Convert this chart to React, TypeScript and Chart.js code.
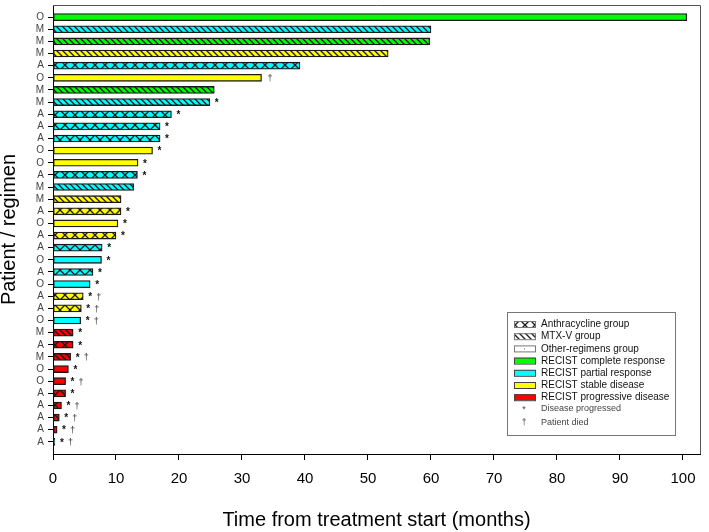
import React, { useEffect, useRef } from 'react';
import { Chart, registerables } from 'chart.js';

Chart.register(...registerables);

// ---- data (top to bottom) ----
const regimens = ['O','M','M','M','A','O','M','M','A','A','A','O','O','A','M','M','A','O','A','A','O','A','O','A','A','O','M','A','M','O','O','A','A','A','A','A'];
const months = [100.6, 60.0, 59.8, 53.2, 39.2, 33.1, 25.6, 24.9, 18.8, 17.0, 17.0, 15.8, 13.5, 13.4, 12.8, 10.8, 10.8, 10.3, 10.0, 7.8, 7.7, 6.35, 5.9, 4.8, 4.5, 4.4, 3.2, 3.2, 2.8, 2.45, 2.0, 2.0, 1.35, 1.0, 0.65, 0.3];
const responses = ['CR','PR','CR','SD','PR','SD','CR','PR','PR','PR','PR','SD','SD','PR','PR','SD','SD','SD','SD','PR','PR','PR','PR','SD','SD','PR','PD','PD','PD','PD','PD','PD','PD','PD','PD','NE'];
const progressed = [0,0,0,0,0,0,0,1,1,1,1,1,1,1,0,0,1,1,1,1,1,1,1,1,1,1,1,1,1,1,1,1,1,1,1,1];
const died = [0,0,0,0,0,1,0,0,0,0,0,0,0,0,0,0,0,0,0,0,0,0,0,1,1,1,0,0,1,0,1,0,1,1,1,1];
const xTicks = [0, 10, 20, 30, 40, 50, 60, 70, 80, 90, 100];

const responseColors: Record<string, string> = {
  CR: '#00ff00',
  PR: '#00ffff',
  SD: '#ffff00',
  PD: '#ff0000',
  NE: '#006e6e',
};

const legendGroups = [
  { kind: 'A', label: 'Anthracycline group' },
  { kind: 'M', label: 'MTX-V group' },
  { kind: 'O', label: 'Other-regimens group' },
];
const legendResponses = [
  { key: 'CR', label: 'RECIST complete response' },
  { key: 'PR', label: 'RECIST partial response' },
  { key: 'SD', label: 'RECIST stable disease' },
  { key: 'PD', label: 'RECIST progressive disease' },
];

const FONT = '"Liberation Sans", Arial, sans-serif';

function makePattern(kind: string, color: string): any {
  if (kind === 'O') return color;
  const size = kind === 'A' ? 10 : 6;
  const c = document.createElement('canvas');
  c.width = size;
  c.height = size;
  const ctx = c.getContext('2d')!;
  ctx.fillStyle = color;
  ctx.fillRect(0, 0, size, size);
  ctx.strokeStyle = '#1a1a1a';
  ctx.lineWidth = 1.3;
  ctx.beginPath();
  if (kind === 'A') {
    ctx.moveTo(0, 0); ctx.lineTo(size, size);
    ctx.moveTo(size, 0); ctx.lineTo(0, size);
  } else {
    ctx.moveTo(-1, -1); ctx.lineTo(size + 1, size + 1);
    ctx.moveTo(-1, size - 1); ctx.lineTo(1, size + 1);
    ctx.moveTo(size - 1, -1); ctx.lineTo(size + 1, 1);
  }
  ctx.stroke();
  return ctx.createPattern(c, 'repeat');
}

const framePlugin = {
  id: 'frame',
  afterDraw(chart: any) {
    const { ctx, chartArea } = chart;
    ctx.save();
    ctx.strokeStyle = '#555';
    ctx.lineWidth = 1;
    ctx.beginPath();
    ctx.moveTo(chartArea.left, chartArea.top + 0.5);
    ctx.lineTo(chartArea.right + 0.5, chartArea.top + 0.5);
    ctx.lineTo(chartArea.right + 0.5, chartArea.bottom);
    ctx.stroke();
    ctx.restore();
  },
};

const markerPlugin = {
  id: 'markers',
  afterDatasetsDraw(chart: any) {
    const { ctx } = chart;
    const meta = chart.getDatasetMeta(0);
    ctx.save();
    meta.data.forEach((bar: any, i: number) => {
      let x = bar.x + 5;
      if (progressed[i]) {
        ctx.font = `bold 10px ${FONT}`;
        ctx.fillStyle = '#111';
        ctx.textAlign = 'left';
        ctx.textBaseline = 'middle';
        ctx.fillText('*', x, bar.y + 1);
        x += 8;
      } else {
        x += 1;
      }
      if (died[i]) {
        ctx.font = `9px ${FONT}`;
        ctx.fillStyle = '#333';
        ctx.textAlign = 'left';
        ctx.textBaseline = 'middle';
        ctx.fillText('\u2020', x, bar.y + 1);
      }
    });
    ctx.restore();
  },
};

const legendPlugin = {
  id: 'customLegend',
  afterDraw(chart: any) {
    const { ctx } = chart;
    ctx.save();
    const bx = 507, by = 312, bw = 168, bh = 123;
    ctx.fillStyle = '#fff';
    ctx.fillRect(bx, by, bw, bh);
    ctx.strokeStyle = '#777';
    ctx.lineWidth = 1;
    ctx.strokeRect(bx + 0.5, by + 0.5, bw, bh);
    const sx = 514, sw = 21, sh = 6, tx = 541;
    let y = 324;
    const step = 12.2;
    ctx.textAlign = 'left';
    ctx.textBaseline = 'middle';
    legendGroups.forEach((g) => {
      ctx.fillStyle = makePattern(g.kind, '#ffffff');
      ctx.fillRect(sx, y - sh / 2, sw, sh);
      ctx.strokeStyle = '#777';
      ctx.strokeRect(sx + 0.5, y - sh / 2 + 0.5, sw, sh);
      if (g.kind === 'O') {
        ctx.fillStyle = '#555';
        ctx.fillRect(sx + 10, y, 1, 1);
      }
      ctx.fillStyle = '#111';
      ctx.font = `10px ${FONT}`;
      ctx.fillText(g.label, tx, y + 0.5);
      y += step;
    });
    legendResponses.forEach((r) => {
      ctx.fillStyle = responseColors[r.key];
      ctx.fillRect(sx, y - sh / 2, sw, sh);
      ctx.strokeStyle = '#444';
      ctx.strokeRect(sx + 0.5, y - sh / 2 + 0.5, sw, sh);
      ctx.fillStyle = '#111';
      ctx.font = `10px ${FONT}`;
      ctx.fillText(r.label, tx, y + 0.5);
      y += step;
    });
    ctx.font = `9px ${FONT}`;
    ctx.fillStyle = '#444';
    ctx.fillText('Disease progressed', tx, 409);
    ctx.fillText('Patient died', tx, 423);
    ctx.textAlign = 'center';
    ctx.fillText('*', 524, 410);
    ctx.font = `8.5px ${FONT}`;
    ctx.fillText('\u2020', 524, 423);
    ctx.restore();
  },
};

export default function App() {
  const ref = useRef<HTMLCanvasElement | null>(null);

  useEffect(() => {
    document.body.style.margin = '0';
    const canvas = ref.current!;
    Chart.defaults.font.family = FONT;

    const chart = new Chart(canvas, {
      type: 'bar',
      data: {
        datasets: [
          {
            data: months.map((m, i) => ({ x: m, y: i + 1 })) as any,
            backgroundColor: regimens.map((r, i) => makePattern(r, responseColors[responses[i]])),
            borderColor: '#1a1a1a',
            borderWidth: 1.3,
            borderSkipped: false,
            barThickness: 7,
          },
        ],
      },
      options: {
        indexAxis: 'y',
        responsive: false,
        animation: false,
        layout: { padding: { top: 5, right: 9, left: 0, bottom: 0 } },
        plugins: {
          legend: { display: false },
          tooltip: { enabled: false },
        },
        scales: {
          x: {
            type: 'linear',
            position: 'bottom',
            min: 0,
            max: 102.7,
            offset: false,
            afterBuildTicks: (s: any) => {
              s.ticks = xTicks.map((v) => ({ value: v }));
            },
            afterFit: (s: any) => {
              s.height = 78;
              s.paddingLeft = 0;
              s.paddingRight = 0;
            },
            grid: { drawOnChartArea: false, drawTicks: true, tickLength: 6, color: '#000', offset: false },
            border: { display: true, color: '#000', width: 1 },
            ticks: { font: { size: 15 }, color: '#000', padding: 10, maxRotation: 0, autoSkip: false },
            title: {
              display: true,
              text: 'Time from treatment start (months)',
              font: { size: 20 },
              color: '#000',
              padding: { top: 0, bottom: 0 },
            },
          },
          y: {
            type: 'linear',
            reverse: true,
            min: 0,
            max: 37,
            offset: false,
            afterBuildTicks: (s: any) => {
              s.ticks = regimens.map((_, i) => ({ value: i + 1 }));
            },
            afterFit: (s: any) => {
              s.width = 53;
              s.paddingTop = 0;
              s.paddingBottom = 0;
            },
            grid: { drawOnChartArea: false, drawTicks: true, tickLength: 5, color: '#000', offset: false },
            border: { display: true, color: '#000', width: 1 },
            ticks: {
              autoSkip: false,
              font: { size: 10 },
              color: '#444',
              padding: 4,
              callback: (v: any) => regimens[Math.round(v) - 1] ?? '',
            },
            title: {
              display: true,
              text: 'Patient / regimen',
              font: { size: 20 },
              color: '#000',
              padding: { top: -3, bottom: 0 },
            },
          },
        },
      } as any,
      plugins: [framePlugin, markerPlugin, legendPlugin],
    });

    return () => chart.destroy();
  }, []);

  return (
    <div style={{ width: 709, height: 532, background: '#fff' }}>
      <canvas ref={ref} width={709} height={532} style={{ display: 'block' }} />
    </div>
  );
}
